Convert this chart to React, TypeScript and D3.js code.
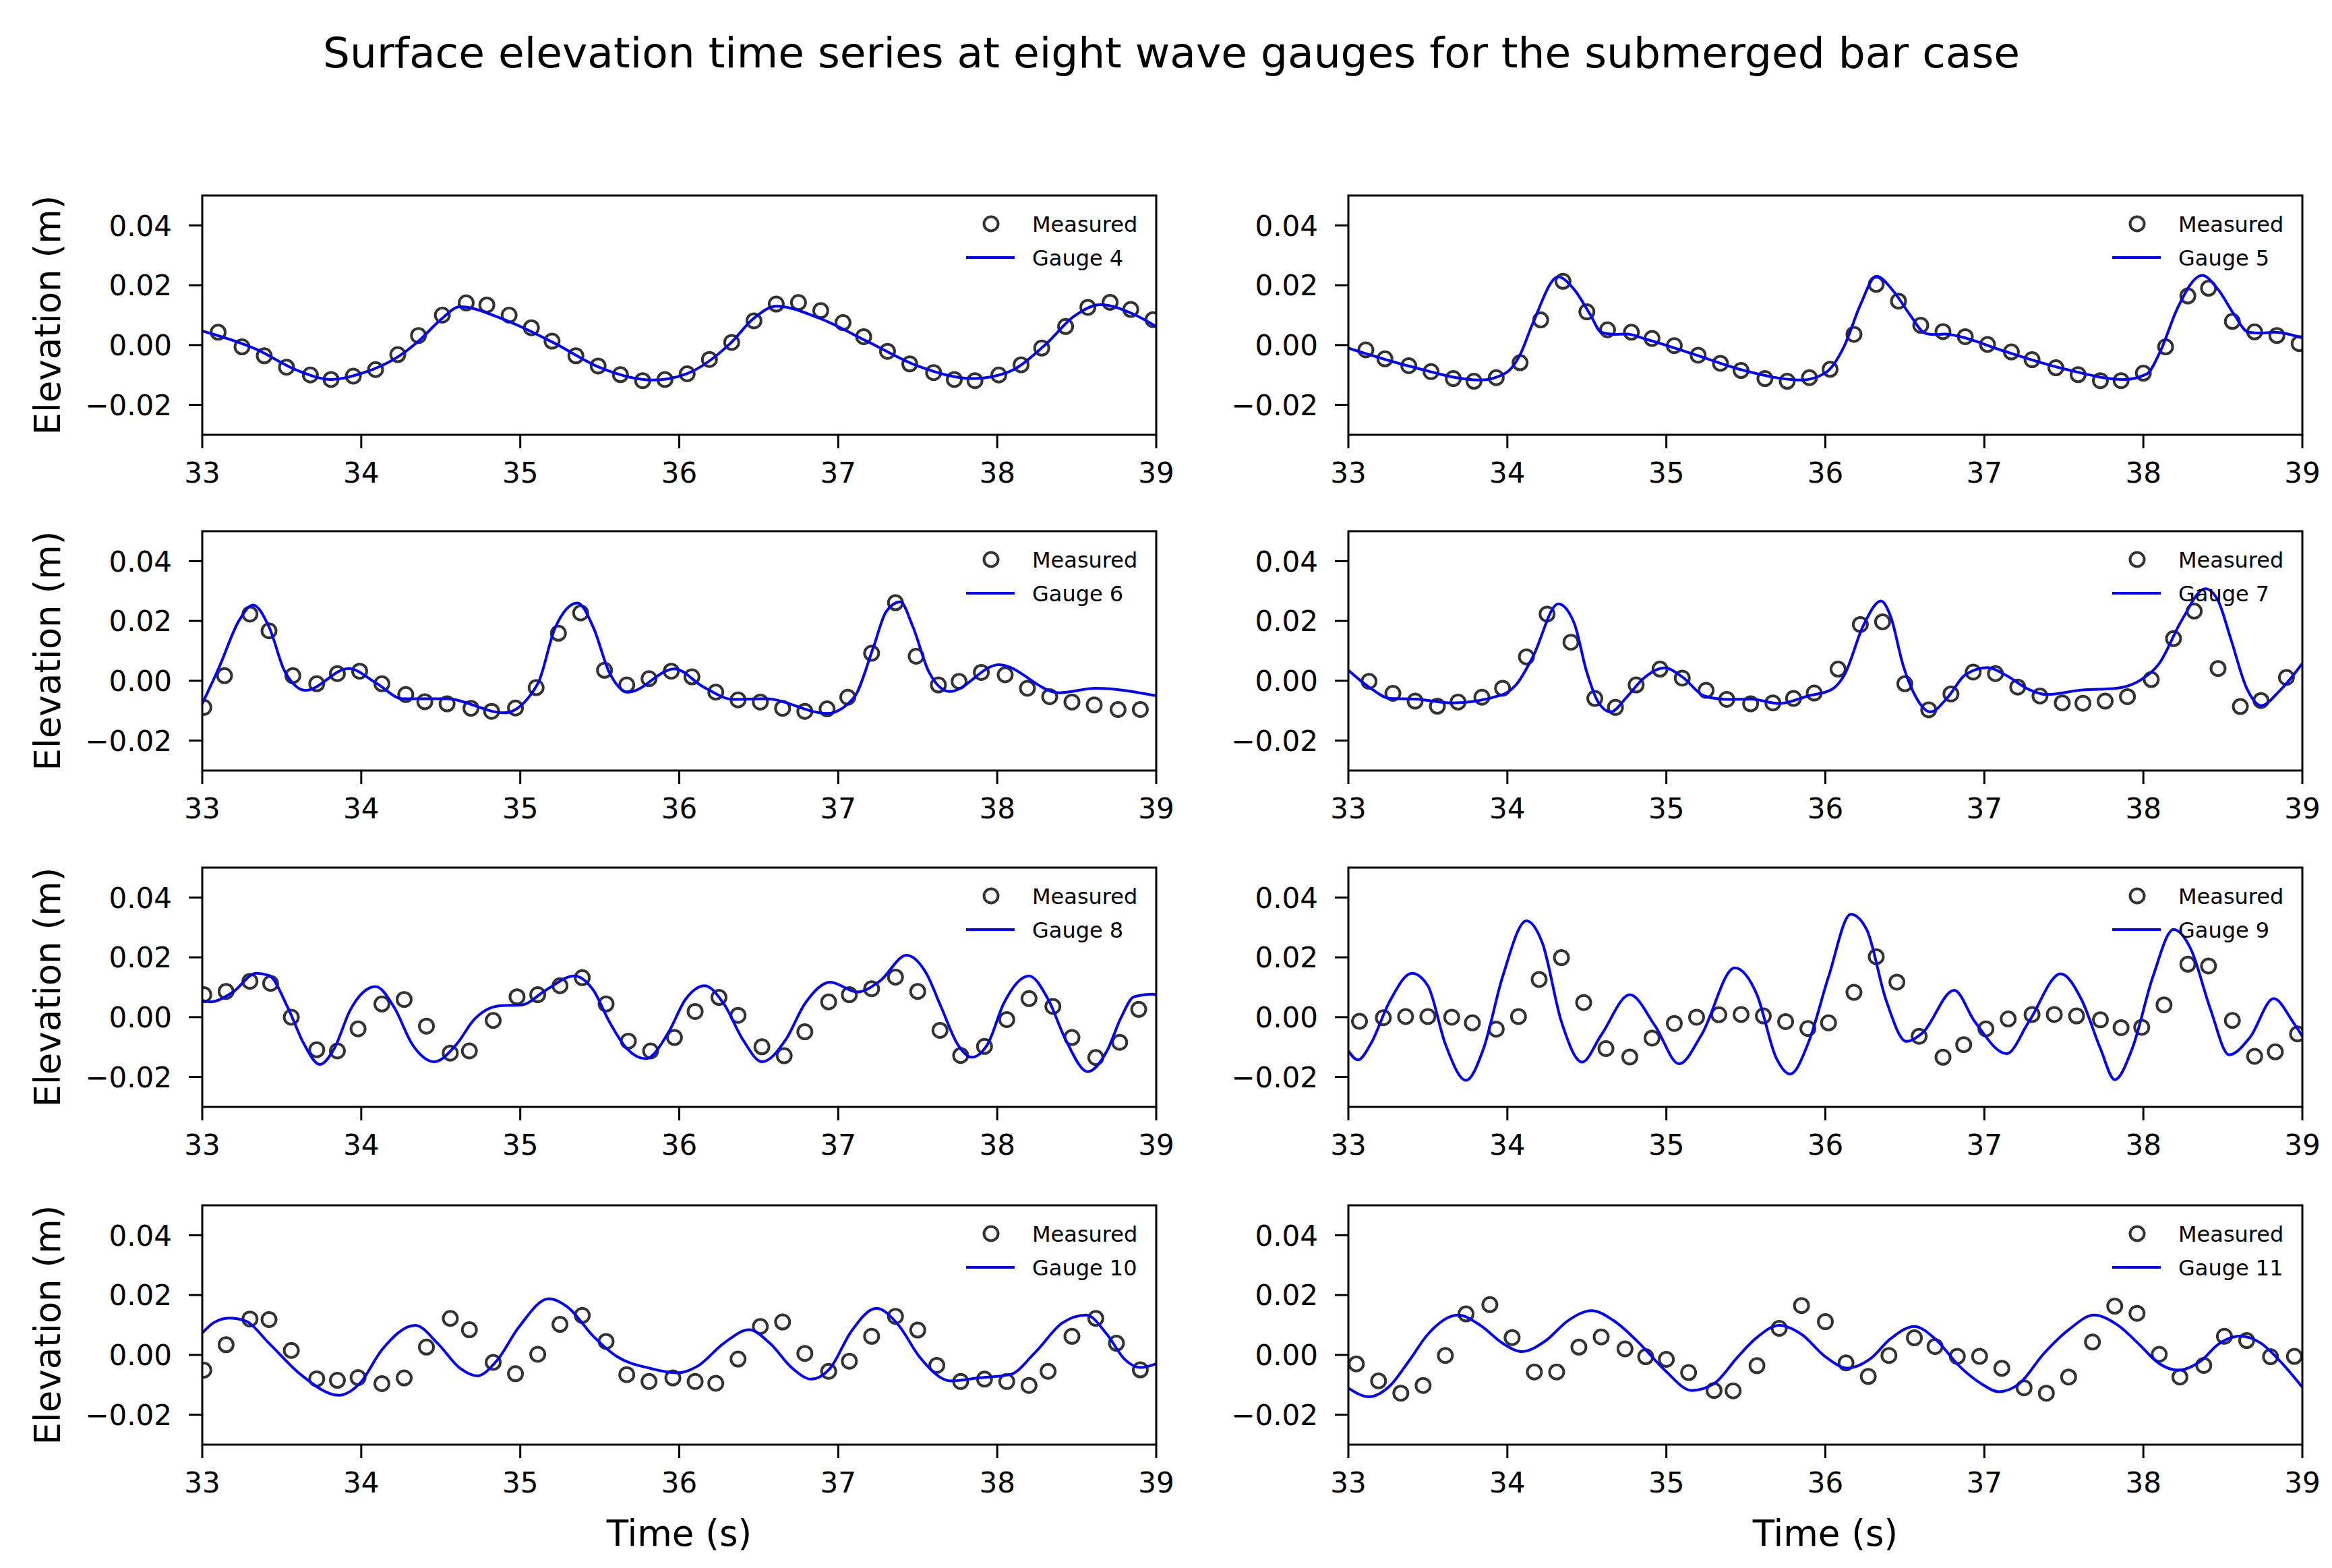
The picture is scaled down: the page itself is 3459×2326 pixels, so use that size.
import React from 'react'
import * as d3 from 'd3'

type P = [number, number]

const TITLE = 'Surface elevation time series at eight wave gauges for the submerged bar case'
const gaugeNames = ['Gauge 4', 'Gauge 5', 'Gauge 6', 'Gauge 7', 'Gauge 8', 'Gauge 9', 'Gauge 10', 'Gauge 11']
const xTicks = [33, 34, 35, 36, 37, 38, 39]
const yTicks = [-0.02, 0, 0.02, 0.04]

const meas4: P[] = [[33.10,0.0043],[33.25,-0.0006],[33.39,-0.0036],[33.53,-0.0074],[33.68,-0.0100],[33.81,-0.0115],[33.95,-0.0104],[34.09,-0.0082],[34.23,-0.0032],[34.36,0.0032],[34.51,0.0100],[34.66,0.0141],[34.79,0.0134],[34.93,0.0100],[35.07,0.0058],[35.20,0.0013],[35.35,-0.0036],[35.49,-0.0070],[35.63,-0.0099],[35.77,-0.0119],[35.91,-0.0115],[36.05,-0.0096],[36.19,-0.0048],[36.33,0.0009],[36.47,0.0081],[36.61,0.0137],[36.75,0.0142],[36.89,0.0115],[37.03,0.0075],[37.16,0.0028],[37.31,-0.0021],[37.45,-0.0063],[37.60,-0.0092],[37.73,-0.0115],[37.86,-0.0119],[38.01,-0.0100],[38.15,-0.0066],[38.28,-0.0010],[38.43,0.0062],[38.57,0.0126],[38.71,0.0143],[38.84,0.0119],[38.98,0.0085]]
const model4: P[] = [[33.0,0.0047],[33.34,-0.0014],[33.6,-0.0085],[33.81,-0.0115],[34.0,-0.0095],[34.24,-0.0036],[34.36,0.0013],[34.5,0.0085],[34.62,0.0128],[34.9,0.0085],[35.22,0.0005],[35.5,-0.0075],[35.83,-0.0117],[36.05,-0.0095],[36.32,0.0005],[36.47,0.009],[36.61,0.013],[36.88,0.009],[37.18,0.0013],[37.5,-0.007],[37.85,-0.0112],[38.07,-0.009],[38.31,0.0005],[38.48,0.0095],[38.65,0.0135],[38.85,0.0105],[39.0,0.0062]]

const meas5: P[] = [[33.11,-0.0016],[33.23,-0.0046],[33.38,-0.0069],[33.52,-0.0089],[33.66,-0.0112],[33.79,-0.0121],[33.93,-0.0109],[34.08,-0.0059],[34.21,0.0084],[34.35,0.0213],[34.50,0.0111],[34.63,0.0051],[34.78,0.0043],[34.91,0.0022],[35.05,-0.0002],[35.20,-0.0034],[35.34,-0.0061],[35.47,-0.0085],[35.62,-0.0112],[35.76,-0.0121],[35.90,-0.0109],[36.03,-0.0081],[36.18,0.0036],[36.32,0.0203],[36.46,0.0147],[36.60,0.0066],[36.74,0.0045],[36.88,0.0028],[37.02,0.0002],[37.17,-0.0023],[37.30,-0.0049],[37.45,-0.0076],[37.59,-0.0099],[37.73,-0.0119],[37.86,-0.0119],[38.00,-0.0094],[38.14,-0.0006],[38.28,0.0164],[38.41,0.0190],[38.56,0.0079],[38.70,0.0044],[38.84,0.0032],[38.98,0.0005]]
const model5: P[] = [[33.0,-0.001],[33.38,-0.007],[33.83,-0.0117],[33.99,-0.0093],[34.08,-0.0032],[34.16,0.0073],[34.32,0.0228],[34.42,0.0186],[34.52,0.0103],[34.59,0.0043],[34.67,0.0036],[34.75,0.0037],[34.87,0.002],[35.18,-0.0032],[35.49,-0.0085],[35.85,-0.0117],[36.0,-0.0093],[36.12,-0.0002],[36.22,0.0134],[36.32,0.023],[36.43,0.0179],[36.53,0.0103],[36.63,0.0039],[36.69,0.0035],[36.75,0.0037],[36.85,0.0028],[37.1,-0.0016],[37.49,-0.0078],[37.88,-0.0115],[38.02,-0.0097],[38.11,-0.0017],[38.21,0.0118],[38.37,0.0233],[38.47,0.0186],[38.57,0.0103],[38.66,0.0043],[38.74,0.0040],[38.82,0.0043],[39.0,0.0024]]

const meas6: P[] = [[33.01,-0.0089],[33.14,0.0017],[33.30,0.0223],[33.42,0.0167],[33.57,0.0017],[33.72,-0.0010],[33.85,0.0024],[33.99,0.0032],[34.13,-0.0010],[34.28,-0.0046],[34.40,-0.0070],[34.54,-0.0077],[34.69,-0.0092],[34.82,-0.0102],[34.97,-0.0091],[35.10,-0.0023],[35.24,0.0159],[35.38,0.0227],[35.53,0.0035],[35.67,-0.0014],[35.81,0.0007],[35.95,0.0032],[36.08,0.0013],[36.23,-0.0038],[36.37,-0.0064],[36.51,-0.0071],[36.65,-0.0092],[36.79,-0.0102],[36.93,-0.0094],[37.06,-0.0055],[37.21,0.0092],[37.36,0.0261],[37.49,0.0082],[37.63,-0.0014],[37.76,-0.0002],[37.90,0.0028],[38.05,0.0020],[38.19,-0.0025],[38.33,-0.0053],[38.47,-0.0071],[38.61,-0.0081],[38.76,-0.0096],[38.90,-0.0096]]
const model6: P[] = [[33.0,-0.0077],[33.11,0.005],[33.23,0.020],[33.32,0.0253],[33.42,0.018],[33.52,0.003],[33.65,-0.0032],[33.92,0.0041],[34.1,-0.001],[34.26,-0.006],[34.53,-0.006],[34.9,-0.0107],[35.11,-0.001],[35.22,0.0178],[35.36,0.026],[35.46,0.0178],[35.56,0.0028],[35.68,-0.0038],[35.97,0.004],[36.15,-0.002],[36.34,-0.0062],[36.54,-0.006],[36.93,-0.0109],[37.10,-0.0055],[37.22,0.011],[37.30,0.023],[37.39,0.0264],[37.47,0.018],[37.57,0.003],[37.70,-0.0036],[38.01,0.0054],[38.39,-0.004],[38.62,-0.0025],[39.0,-0.005]]

const meas7: P[] = [[33.13,-0.0002],[33.28,-0.0042],[33.42,-0.0068],[33.56,-0.0085],[33.69,-0.0071],[33.84,-0.0055],[33.97,-0.0025],[34.12,0.0080],[34.25,0.0223],[34.40,0.0129],[34.55,-0.0059],[34.68,-0.0089],[34.81,-0.0014],[34.96,0.0039],[35.10,0.0009],[35.25,-0.0032],[35.38,-0.0062],[35.53,-0.0077],[35.67,-0.0074],[35.80,-0.0059],[35.93,-0.0041],[36.08,0.0039],[36.22,0.0188],[36.36,0.0197],[36.50,-0.0010],[36.65,-0.0097],[36.79,-0.0044],[36.93,0.0029],[37.07,0.0024],[37.21,-0.0021],[37.35,-0.0051],[37.49,-0.0074],[37.62,-0.0075],[37.76,-0.0068],[37.90,-0.0053],[38.05,0.0004],[38.19,0.0141],[38.32,0.0233],[38.47,0.0041],[38.61,-0.0086],[38.74,-0.0066],[38.90,0.0011]]
const model7: P[] = [[33.0,0.0035],[33.14,-0.0025],[33.26,-0.0059],[33.42,-0.0061],[33.65,-0.0074],[33.97,-0.0046],[34.06,-0.001],[34.16,0.008],[34.32,0.0257],[34.42,0.0193],[34.50,0.0028],[34.57,-0.007],[34.65,-0.0104],[34.75,-0.0055],[34.85,0.0005],[34.99,0.0043],[35.10,0.0013],[35.24,-0.0051],[35.38,-0.0062],[35.53,-0.0061],[35.71,-0.0076],[35.89,-0.0051],[36.04,-0.0029],[36.12,0.002],[36.24,0.0186],[36.35,0.0267],[36.41,0.0216],[36.49,0.005],[36.57,-0.0055],[36.66,-0.0104],[36.77,-0.0055],[36.88,0.002],[37.02,0.0044],[37.14,0.0017],[37.28,-0.0029],[37.39,-0.0046],[37.61,-0.0031],[37.83,-0.0025],[37.99,0.0005],[38.10,0.0058],[38.24,0.0201],[38.39,0.0308],[38.47,0.0268],[38.55,0.014],[38.65,-0.0025],[38.74,-0.0083],[38.86,-0.0032],[39.0,0.0058]]

const meas8: P[] = [[33.01,0.0075],[33.15,0.0086],[33.30,0.0120],[33.43,0.0113],[33.56,0.0000],[33.72,-0.0109],[33.85,-0.0113],[33.98,-0.0039],[34.13,0.0044],[34.27,0.0059],[34.41,-0.0030],[34.56,-0.0120],[34.68,-0.0113],[34.83,-0.0011],[34.98,0.0068],[35.11,0.0075],[35.25,0.0105],[35.39,0.0132],[35.54,0.0044],[35.68,-0.0080],[35.82,-0.0113],[35.97,-0.0068],[36.10,0.0019],[36.25,0.0066],[36.37,0.0006],[36.52,-0.0099],[36.66,-0.0129],[36.79,-0.0049],[36.94,0.0051],[37.07,0.0075],[37.21,0.0095],[37.36,0.0134],[37.50,0.0086],[37.64,-0.0044],[37.77,-0.0128],[37.92,-0.0098],[38.06,-0.0008],[38.20,0.0062],[38.35,0.0036],[38.47,-0.0068],[38.62,-0.0135],[38.77,-0.0084],[38.89,0.0026]]
const model8: P[] = [[33.0,0.0056],[33.05,0.0051],[33.19,0.0083],[33.34,0.0147],[33.42,0.0139],[33.54,0.003],[33.64,-0.009],[33.74,-0.0158],[33.83,-0.0105],[33.93,0.0023],[34.09,0.0102],[34.21,0.003],[34.32,-0.009],[34.46,-0.0149],[34.60,-0.009],[34.71,-0.0008],[34.87,0.0038],[35.01,0.0041],[35.16,0.009],[35.34,0.0138],[35.46,0.009],[35.56,-0.0015],[35.67,-0.0105],[35.79,-0.0139],[35.93,-0.0053],[36.04,0.006],[36.16,0.0105],[36.28,0.0045],[36.40,-0.0075],[36.52,-0.0149],[36.67,-0.0075],[36.79,0.0045],[36.95,0.0117],[37.12,0.0084],[37.26,0.012],[37.43,0.0207],[37.55,0.015],[37.65,0.003],[37.75,-0.009],[37.84,-0.0134],[37.94,-0.009],[38.04,0.0045],[38.20,0.0138],[38.32,0.006],[38.43,-0.0075],[38.57,-0.0182],[38.69,-0.0113],[38.78,0.0],[38.86,0.0068],[38.98,0.0077],[39.0,0.0074]]

const meas9: P[] = [[33.07,-0.0014],[33.22,-0.0002],[33.36,0.0002],[33.50,0.0002],[33.65,0.0000],[33.78,-0.0019],[33.93,-0.0040],[34.07,0.0002],[34.20,0.0126],[34.34,0.0199],[34.48,0.0049],[34.62,-0.0105],[34.77,-0.0133],[34.91,-0.0070],[35.05,-0.0021],[35.19,0.0000],[35.33,0.0008],[35.47,0.0009],[35.61,0.0004],[35.75,-0.0015],[35.89,-0.0038],[36.02,-0.0019],[36.18,0.0083],[36.32,0.0202],[36.45,0.0117],[36.59,-0.0064],[36.74,-0.0134],[36.87,-0.0092],[37.01,-0.0039],[37.15,-0.0006],[37.30,0.0009],[37.44,0.0009],[37.58,0.0004],[37.73,-0.0009],[37.86,-0.0035],[37.99,-0.0034],[38.13,0.0041],[38.28,0.0177],[38.41,0.0171],[38.56,-0.0011],[38.70,-0.0131],[38.83,-0.0116],[38.97,-0.0056]]
const model9: P[] = [[33.0,-0.0113],[33.06,-0.0143],[33.14,-0.009],[33.26,0.0053],[33.40,0.0147],[33.50,0.0105],[33.61,-0.009],[33.74,-0.0211],[33.85,-0.0105],[33.97,0.0135],[34.12,0.0322],[34.22,0.0248],[34.34,-0.0015],[34.47,-0.015],[34.59,-0.006],[34.77,0.0075],[34.93,-0.003],[35.08,-0.0156],[35.22,-0.006],[35.43,0.0165],[35.57,0.0075],[35.69,-0.0135],[35.78,-0.019],[35.89,-0.009],[36.02,0.0135],[36.16,0.0344],[36.26,0.0293],[36.38,0.006],[36.51,-0.0081],[36.61,-0.0053],[36.81,0.009],[36.94,-0.0015],[37.14,-0.0122],[37.28,-0.0015],[37.48,0.0145],[37.61,0.006],[37.73,-0.0105],[37.82,-0.0209],[37.93,-0.0105],[38.06,0.0135],[38.19,0.0293],[38.30,0.0226],[38.42,0.003],[38.54,-0.0126],[38.67,-0.0068],[38.82,0.0062],[38.94,-0.0015],[39.0,-0.0064]]

const meas10: P[] = [[33.01,-0.0051],[33.15,0.0034],[33.30,0.0120],[33.42,0.0118],[33.56,0.0015],[33.72,-0.0080],[33.85,-0.0085],[33.98,-0.0076],[34.13,-0.0096],[34.27,-0.0077],[34.41,0.0026],[34.56,0.0122],[34.68,0.0084],[34.83,-0.0025],[34.97,-0.0063],[35.11,0.0002],[35.25,0.0102],[35.39,0.0132],[35.54,0.0045],[35.67,-0.0066],[35.81,-0.0089],[35.96,-0.0077],[36.10,-0.0089],[36.23,-0.0095],[36.37,-0.0014],[36.51,0.0095],[36.65,0.0110],[36.79,0.0005],[36.94,-0.0055],[37.07,-0.0021],[37.21,0.0062],[37.36,0.0129],[37.50,0.0083],[37.62,-0.0035],[37.77,-0.0089],[37.92,-0.0081],[38.06,-0.0089],[38.20,-0.0102],[38.32,-0.0055],[38.47,0.0062],[38.62,0.0122],[38.75,0.0039],[38.90,-0.0050]]
const model10: P[] = [[33.0,0.0073],[33.07,0.0107],[33.17,0.0123],[33.27,0.0114],[33.42,0.0039],[33.62,-0.0066],[33.86,-0.0135],[33.99,-0.0096],[34.13,0.0017],[34.34,0.0099],[34.48,0.0039],[34.62,-0.0044],[34.73,-0.007],[34.85,-0.0021],[34.99,0.0092],[35.18,0.0188],[35.30,0.0159],[35.46,0.0062],[35.61,-0.0006],[35.81,-0.0044],[35.99,-0.006],[36.12,-0.0036],[36.28,0.0039],[36.44,0.0084],[36.57,0.0039],[36.71,-0.0044],[36.83,-0.0081],[36.95,-0.0044],[37.08,0.0077],[37.24,0.0156],[37.38,0.0099],[37.51,-0.0006],[37.71,-0.0087],[37.88,-0.0077],[38.08,-0.0066],[38.24,0.0009],[38.41,0.0107],[38.56,0.0133],[38.69,0.0069],[38.80,-0.0014],[38.90,-0.0042],[39.0,-0.003]]

const meas11: P[] = [[33.05,-0.0030],[33.19,-0.0087],[33.33,-0.0128],[33.47,-0.0102],[33.61,-0.0002],[33.74,0.0137],[33.89,0.0168],[34.03,0.0058],[34.17,-0.0057],[34.31,-0.0057],[34.45,0.0026],[34.59,0.0060],[34.74,0.0020],[34.87,-0.0006],[35.00,-0.0015],[35.14,-0.0059],[35.30,-0.0119],[35.42,-0.0120],[35.57,-0.0036],[35.71,0.0089],[35.85,0.0165],[36.00,0.0111],[36.13,-0.0027],[36.27,-0.0072],[36.40,-0.0002],[36.56,0.0057],[36.69,0.0028],[36.83,-0.0005],[36.97,-0.0005],[37.11,-0.0045],[37.25,-0.0110],[37.39,-0.0128],[37.53,-0.0074],[37.68,0.0043],[37.82,0.0163],[37.96,0.0139],[38.10,0.0002],[38.23,-0.0074],[38.38,-0.0035],[38.51,0.0062],[38.65,0.0048],[38.80,-0.0006],[38.95,-0.0005]]
const model11: P[] = [[33.0,-0.0111],[33.13,-0.014],[33.26,-0.0104],[33.38,-0.0021],[33.50,0.0069],[33.69,0.0133],[33.83,0.0099],[33.97,0.0039],[34.09,0.0011],[34.24,0.0047],[34.38,0.0114],[34.53,0.0148],[34.67,0.0114],[34.83,0.0039],[34.99,-0.0051],[35.16,-0.0119],[35.30,-0.0096],[35.45,-0.0006],[35.56,0.0054],[35.71,0.0099],[35.85,0.0069],[36.0,-0.0006],[36.14,-0.0044],[36.28,-0.0014],[36.41,0.0054],[36.56,0.0095],[36.69,0.0054],[36.84,-0.0036],[36.98,-0.0096],[37.09,-0.0123],[37.22,-0.0096],[37.37,0.0002],[37.53,0.0084],[37.69,0.0133],[37.84,0.0099],[37.98,0.0032],[38.10,-0.0029],[38.22,-0.0051],[38.36,-0.0021],[38.47,0.0035],[38.61,0.0063],[38.74,0.0039],[38.86,-0.0021],[39.0,-0.0108]]

const measured = [meas4, meas5, meas6, meas7, meas8, meas9, meas10, meas11]
const models = [model4, model5, model6, model7, model8, model9, model10, model11]

const W = 3459
const H = 2326
const FONT = 'DejaVu Sans, sans-serif'
const colLeft = [292, 1992]
const rowTop = [282, 780, 1279, 1780]
const pw = 1415
const ph = 355

const x = d3.scaleLinear().domain([33, 39]).range([0, pw])
const y = d3.scaleLinear().domain([-0.03, 0.05]).range([ph, 0])
const line = d3.line<P>().x(d => x(d[0])).y(d => y(d[1])).curve(d3.curveMonotoneX)

function Panel({ i }: { i: number }) {
  const col = i % 2
  const row = Math.floor(i / 2)
  const left = colLeft[col]
  const top = rowTop[row]
  return (
    <g transform={`translate(${left},${top})`}>
      <defs>
        <clipPath id={`clip${i}`}>
          <rect x={0} y={0} width={pw} height={ph} />
        </clipPath>
      </defs>
      <g clipPath={`url(#clip${i})`}>
        {measured[i].map((d, k) => (
          <circle key={k} cx={x(d[0])} cy={y(d[1])} r={10.5} fill="none" stroke="#333333" strokeWidth={4} />
        ))}
        <path d={line(models[i]) ?? ''} fill="none" stroke="#0000ff" strokeWidth={4} />
      </g>
      <rect x={0} y={0} width={pw} height={ph} fill="none" stroke="#000" strokeWidth={3} />
      {xTicks.map(t => (
        <g key={t} transform={`translate(${x(t)},${ph})`}>
          <line y2={20} stroke="#000" strokeWidth={3} />
          <text y={71} textAnchor="middle" fontSize={42} fontFamily={FONT}>{t}</text>
        </g>
      ))}
      {yTicks.map(t => (
        <g key={t} transform={`translate(0,${y(t)})`}>
          <line x2={-20} stroke="#000" strokeWidth={3} />
          <text x={-45} dy="0.36em" textAnchor="end" fontSize={42} fontFamily={FONT}>{d3.format('.2f')(t).replace('-', '\u2212')}</text>
        </g>
      ))}
      {col === 0 && (
        <text transform={`translate(${-230},${ph / 2}) rotate(-90)`} dy="0.36em" textAnchor="middle" fontSize={53} fontFamily={FONT}>Elevation (m)</text>
      )}
      {row === 3 && (
        <text x={pw / 2} y={ph + 150} textAnchor="middle" fontSize={53} fontFamily={FONT}>Time (s)</text>
      )}
      <g transform={`translate(${pw - 245},42)`}>
        <circle r={10.5} fill="none" stroke="#333333" strokeWidth={4} />
        <text x={61} dy="0.36em" fontSize={32} fontFamily={FONT}>Measured</text>
        <line x1={-37} x2={35} y1={50} y2={50} stroke="#0000ff" strokeWidth={4} />
        <text x={61} y={50} dy="0.36em" fontSize={32} fontFamily={FONT}>{gaugeNames[i]}</text>
      </g>
    </g>
  )
}

export default function App() {
  return (
    <svg width={W} height={H} viewBox={`0 0 ${W} ${H}`} style={{ display: 'block', background: '#fff' }}>
      <rect width={W} height={H} fill="#fff" />
      <text x={W / 2} y={92} textAnchor="middle" fontSize={63} fontFamily={FONT}>{TITLE}</text>
      {gaugeNames.map((_, i) => <Panel key={i} i={i} />)}
    </svg>
  )
}
